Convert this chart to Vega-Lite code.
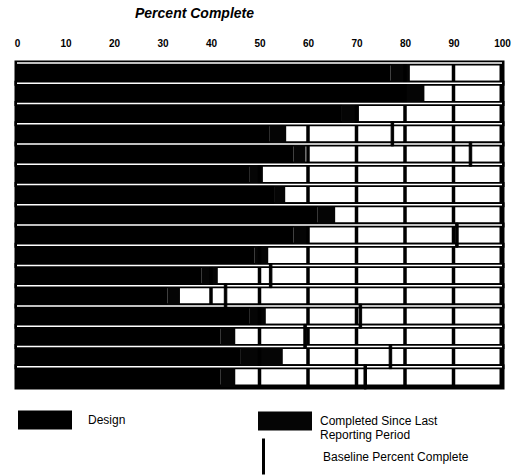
{
  "$schema": "https://vega.github.io/schema/vega-lite/v6.json",
  "autosize": {"type": "none"},
  "padding": {"left": 17, "top": 63, "right": 13, "bottom": 88},
  "width": 485,
  "height": 324,
  "background": "white",
  "config": {"view": {"stroke": null}, "font": "Liberation Sans"},
  "datasets": {
    "rows": [
      {"task": "T01", "design": 77, "completed": 81, "baseline": null},
      {"task": "T02", "design": 80, "completed": 84, "baseline": null},
      {"task": "T03", "design": 67, "completed": 70.5, "baseline": null},
      {"task": "T04", "design": 52, "completed": 55.5, "baseline": 77.4},
      {"task": "T05", "design": 57, "completed": 59.5, "baseline": 93.5},
      {"task": "T06", "design": 48, "completed": 50.7, "baseline": null},
      {"task": "T07", "design": 53, "completed": 55.3, "baseline": null},
      {"task": "T08", "design": 62, "completed": 65.6, "baseline": null},
      {"task": "T09", "design": 57, "completed": 60, "baseline": 90.7},
      {"task": "T10", "design": 49, "completed": 51.8, "baseline": null},
      {"task": "T11", "design": 38, "completed": 41.4, "baseline": 52.3},
      {"task": "T12", "design": 31, "completed": 33.6, "baseline": 43},
      {"task": "T13", "design": 48, "completed": 51.3, "baseline": 70.8},
      {"task": "T14", "design": 42, "completed": 45, "baseline": 59.4},
      {"task": "T15", "design": 46, "completed": 54.8, "baseline": 77},
      {"task": "T16", "design": 42, "completed": 45, "baseline": 71.8}
    ],
    "grid": [{"g": 10}, {"g": 20}, {"g": 30}, {"g": 40}, {"g": 50}, {"g": 60}, {"g": 70}, {"g": 80}, {"g": 90}]
  },
  "layer": [
    {
      "data": {"name": "rows"},
      "mark": {"type": "bar", "fill": "white", "stroke": "black", "strokeWidth": 5, "opacity": 1},
      "encoding": {
        "y": {"field": "task", "type": "nominal", "sort": null, "axis": null, "scale": {"paddingInner": 0, "paddingOuter": 0}},
        "x": {"datum": 0, "type": "quantitative", "title": "Percent Complete", "scale": {"domain": [0, 100], "nice": false},
          "axis": {"orient": "top", "values": [0, 10, 20, 30, 40, 50, 60, 70, 80, 90, 100], "domain": false, "ticks": false, "grid": false,
            "labelFont": "Liberation Sans", "labelFontSize": 10, "labelFontWeight": "bold", "labelColor": "black", "labelPadding": 15,
            "labelFlush": false, "labelOverlap": false,
            "titleX": 177, "titleY": -50, "titleFontSize": 14, "titleFontStyle": "italic", "titleFontWeight": "bold",
            "titleColor": "black", "titleBaseline": "middle", "titleAlign": "center", "titleFont": "Liberation Sans"}},
        "x2": {"datum": 100}
      }
    },
    {
      "data": {"name": "rows"},
      "mark": {"type": "bar", "opacity": 1},
      "encoding": {
        "y": {"field": "task", "type": "nominal", "sort": null, "axis": null},
        "x": {"field": "design", "type": "quantitative", "stack": null, "title": "Percent Complete"},
        "color": {"datum": "Design", "scale": {"domain": ["Design"], "range": ["#000000"]},
          "legend": {"orient": "none", "legendX": 1, "legendY": 330, "title": null, "padding": 0,
            "symbolType": "M-1,-0.35H1V0.35H-1Z", "symbolSize": 2916, "symbolStrokeWidth": 0, "symbolOpacity": 1,
            "labelFontSize": 12, "labelOffset": 16, "labelColor": "black", "labelFont": "Liberation Sans", "labelLimit": 300}}
      }
    },
    {
      "data": {"name": "rows"},
      "mark": {"type": "bar", "opacity": 1},
      "encoding": {
        "y": {"field": "task", "type": "nominal", "sort": null, "axis": null},
        "x": {"field": "design", "type": "quantitative", "stack": null, "title": "Percent Complete"},
        "x2": {"field": "completed"},
        "fill": {"datum": "Completed Since Last Reporting Period", "scale": {"domain": ["Completed Since Last Reporting Period"], "range": ["#050505"]},
          "legend": {"orient": "none", "legendX": 241, "legendY": 331, "title": null, "padding": 0,
            "symbolType": "M-1,-0.35H1V0.35H-1Z", "symbolSize": 2916, "symbolStrokeWidth": 0, "symbolOpacity": 1,
            "labelExpr": "['Completed Since Last', 'Reporting Period']",
            "labelFontSize": 12, "labelOffset": 8, "labelColor": "black", "labelFont": "Liberation Sans", "labelLimit": 300}}
      }
    },
    {
      "data": {"name": "grid"},
      "mark": {"type": "rule", "color": "black", "strokeWidth": 3.5},
      "encoding": {
        "x": {"field": "g", "type": "quantitative", "title": "Percent Complete"}
      }
    },
    {
      "data": {"name": "rows"},
      "mark": {"type": "rule", "color": "white", "strokeWidth": 1.5},
      "encoding": {
        "y": {"field": "task", "type": "nominal", "sort": null, "axis": null, "bandPosition": 0}
      }
    },
    {
      "data": {"name": "rows"},
      "mark": {"type": "tick", "color": "black", "fill": "black", "thickness": 2.5, "size": 24, "orient": "vertical", "opacity": 1},
      "encoding": {
        "y": {"field": "task", "type": "nominal", "sort": null, "axis": null},
        "x": {"field": "baseline", "type": "quantitative", "title": "Percent Complete"},
        "stroke": {"datum": "Baseline Percent Complete", "scale": {"domain": ["Baseline Percent Complete"], "range": ["#000000"]},
          "legend": {"orient": "none", "legendX": 227, "legendY": 374, "title": null, "padding": 0,
            "symbolType": "M0,-1V1", "symbolSize": 1296, "symbolStrokeWidth": 3, "symbolOpacity": 1,
            "labelFontSize": 12, "labelOffset": 40, "labelColor": "black", "labelFont": "Liberation Sans", "labelLimit": 300}}
      }
    }
  ]
}
